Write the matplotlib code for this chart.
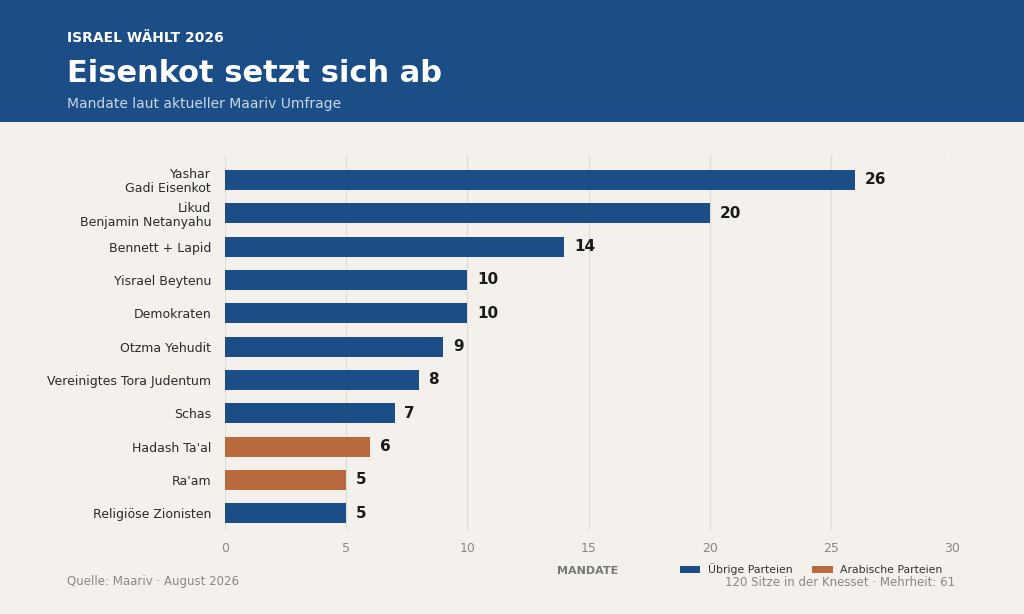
import matplotlib.pyplot as plt
from matplotlib.patches import Rectangle, Patch

parties = ['Yashar\nGadi Eisenkot', 'Likud\nBenjamin Netanyahu', 'Bennett + Lapid',
           'Yisrael Beytenu', 'Demokraten', 'Otzma Yehudit',
           'Vereinigtes Tora Judentum', 'Schas', "Hadash Ta'al", "Ra'am",
           'Religiöse Zionisten']
seats = [26, 20, 14, 10, 10, 9, 8, 7, 6, 5, 5]
arab = [False, False, False, False, False, False, False, False, True, True, False]

BLUE = '#1b4e86'
ORANGE = '#b86a3e'
BG = '#f4f1ec'

fig = plt.figure(figsize=(10.24, 6.14), dpi=100, facecolor=BG)

# header band
fig.patches.append(Rectangle((0, 1 - 122 / 614), 1, 122 / 614, transform=fig.transFigure,
                             facecolor=BLUE, edgecolor='none', zorder=0))
fig.text(67 / 1024, 1 - 38 / 614, 'ISRAEL WÄHLT 2026', color='white', fontsize=10,
         fontweight='bold', va='center')
fig.text(67 / 1024, 1 - 73 / 614, 'Eisenkot setzt sich ab', color='white', fontsize=22,
         fontweight='bold', va='center')
fig.text(67 / 1024, 1 - 104 / 614, 'Mandate laut aktueller Maariv Umfrage', color='#c9d6e6',
         fontsize=10, va='center')

ax = fig.add_axes([225 / 1024, 1 - 530 / 614, (952 - 225) / 1024, (530 - 155) / 614])
ax.set_facecolor(BG)
y = list(range(len(parties)))
colors = [ORANGE if a else BLUE for a in arab]
ax.barh(y, seats, height=0.6, color=colors, zorder=2)
for yi, v in zip(y, seats):
    ax.text(v + 0.4, yi, str(v), va='center', ha='left', fontsize=11, fontweight='bold',
            color='#1a1a1a')

ax.set_xlim(0, 30)
ax.set_ylim(10.5, -0.75)
ax.set_xticks([0, 5, 10, 15, 20, 25, 30])
ax.set_yticks(y)
ax.set_yticklabels(parties, fontsize=9, color='#2a2a2a', linespacing=1.1)
ax.tick_params(axis='x', colors='#888888', labelsize=9, length=0, pad=9)
ax.tick_params(axis='y', length=0, pad=10)
ax.grid(axis='x', color='#e0ddd7', linewidth=1, zorder=0)
for s in ax.spines.values():
    s.set_visible(False)

fig.text(588 / 1024, 1 - 571 / 614, 'MANDATE', color='#777777', fontsize=8,
         fontweight='bold', ha='center', va='center')
handles = [Patch(facecolor=BLUE, label='Übrige Parteien'),
           Patch(facecolor=ORANGE, label='Arabische Parteien')]
fig.legend(handles=handles, loc='center', bbox_to_anchor=(811 / 1024, 1 - 569 / 614),
           ncol=2, frameon=False, fontsize=7.8, handlelength=1.9, handleheight=0.6,
           handletextpad=0.7, columnspacing=1.8, labelcolor='#333333',
           borderpad=0, borderaxespad=0)
fig.text(67 / 1024, 1 - 582 / 614, 'Quelle: Maariv · August 2026', color='#888888',
         fontsize=8.5, va='center')
fig.text(955 / 1024, 1 - 582 / 614, '120 Sitze in der Knesset · Mehrheit: 61',
         color='#888888', fontsize=8.5, ha='right', va='center')

fig.savefig('out.png', dpi=100, facecolor=BG)
